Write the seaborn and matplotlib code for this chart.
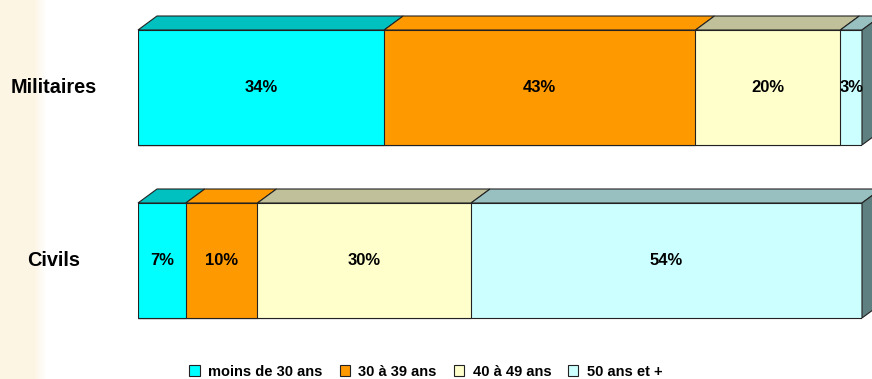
import numpy as np
import pandas as pd
import matplotlib.pyplot as plt
import seaborn as sns
from matplotlib.patches import Polygon, Patch
from matplotlib import transforms

# Data (bar lengths; labels are shown rounded)
groups = ['Militaires', 'Civils']
ages = ['moins de 30 ans', '30 à 39 ans', '40 à 49 ans', '50 ans et +']
militaires = [34.0, 43.0, 20.0, 3.0]
civils = [6.6, 9.9, 29.5, 54.0]

front_colors = ['#00ffff', '#ff9900', '#ffffcc', '#ccffff']
top_colors = ['#00c0c0', '#ff9900', '#c0c09a', '#99c0c0']
side_color = '#5f8080'
edge = '#222222'

df = pd.DataFrame({
    'group': np.repeat(groups, len(ages)),
    'age': ages * len(groups),
    'pct': militaires + civils,
})
df['cum'] = df.groupby('group')['pct'].cumsum()
df['left'] = df['cum'] - df['pct']

sns.set_style('white')
plt.rcParams['font.family'] = ['Liberation Sans', 'DejaVu Sans']
plt.rcParams['text.color'] = 'black'

fig = plt.figure(figsize=(8.72, 3.79), dpi=100)

# beige strip on the left edge
bg = fig.add_axes([0, 0, 48 / 872, 1], zorder=-1)
beige = np.array([0.992, 0.961, 0.898])
t = np.clip((np.arange(48) - 33) / 12, 0, 1)
grad = beige[None, :] * (1 - t[:, None]) + t[:, None]
bg.imshow(grad[None, :, :], aspect='auto', extent=[0, 1, 0, 1])
bg.axis('off')

ax = fig.add_axes([138 / 872, 32 / 379, 724 / 872, 347 / 379])
ax.patch.set_alpha(0)

bar_h = 115 / 173
# stacked bars: draw cumulative totals from the widest down
for i in range(len(ages) - 1, -1, -1):
    sub = df[df['age'] == ages[i]]
    sns.barplot(data=sub, x='cum', y='group', order=groups, orient='h',
                color=front_colors[i], saturation=1, width=bar_h,
                edgecolor=edge, linewidth=0.8, ax=ax, zorder=2)

ax.set_xlim(0, 100)
ax.set_ylim(1.5, -87.5 / 173)

# depth of the 3D effect in data units
dx = 19 * 100 / 724
dy = 14 / 173

for r, g in enumerate(groups):
    sub = df[df['group'] == g].reset_index(drop=True)
    yt = r - bar_h / 2
    yb = r + bar_h / 2
    for i, row in sub.iterrows():
        l, rr = row['left'], row['cum']
        top = Polygon([(l, yt), (rr, yt), (rr + dx, yt - dy), (l + dx, yt - dy)],
                      closed=True, facecolor=top_colors[i], edgecolor=edge,
                      linewidth=0.8, clip_on=False, zorder=3)
        ax.add_patch(top)
        ax.text((l + rr) / 2, r, f"{row['pct']:.0f}%", ha='center', va='center',
                fontsize=12, fontweight='bold', zorder=5)
    end = sub['cum'].iloc[-1]
    side = Polygon([(end, yt), (end + dx, yt - dy), (end + dx, yb - dy), (end, yb)],
                   closed=True, facecolor=side_color, edgecolor=edge,
                   linewidth=0.8, clip_on=False, zorder=3)
    ax.add_patch(side)

# category labels centred in the left margin
trans = transforms.blended_transform_factory(fig.transFigure, ax.transData)
for r, g in enumerate(groups):
    ax.text(54 / 872, r, g, transform=trans, ha='center', va='center',
            fontsize=14.3, fontweight='bold')

ax.set_xlabel('')
ax.set_ylabel('')
ax.set_xticks([])
ax.set_yticks([])
sns.despine(ax=ax, left=True, bottom=True)

handles = [Patch(facecolor=c, edgecolor=edge, linewidth=0.8) for c in front_colors]
fig.legend(handles, ages, loc='center', bbox_to_anchor=(426 / 872, 1 - 371.5 / 379),
           ncol=4, frameon=False, prop={'weight': 'bold', 'size': 10.5},
           handlelength=0.7, handleheight=0.7, handletextpad=0.6,
           columnspacing=1.15)

fig.savefig('out.png', dpi=100)
